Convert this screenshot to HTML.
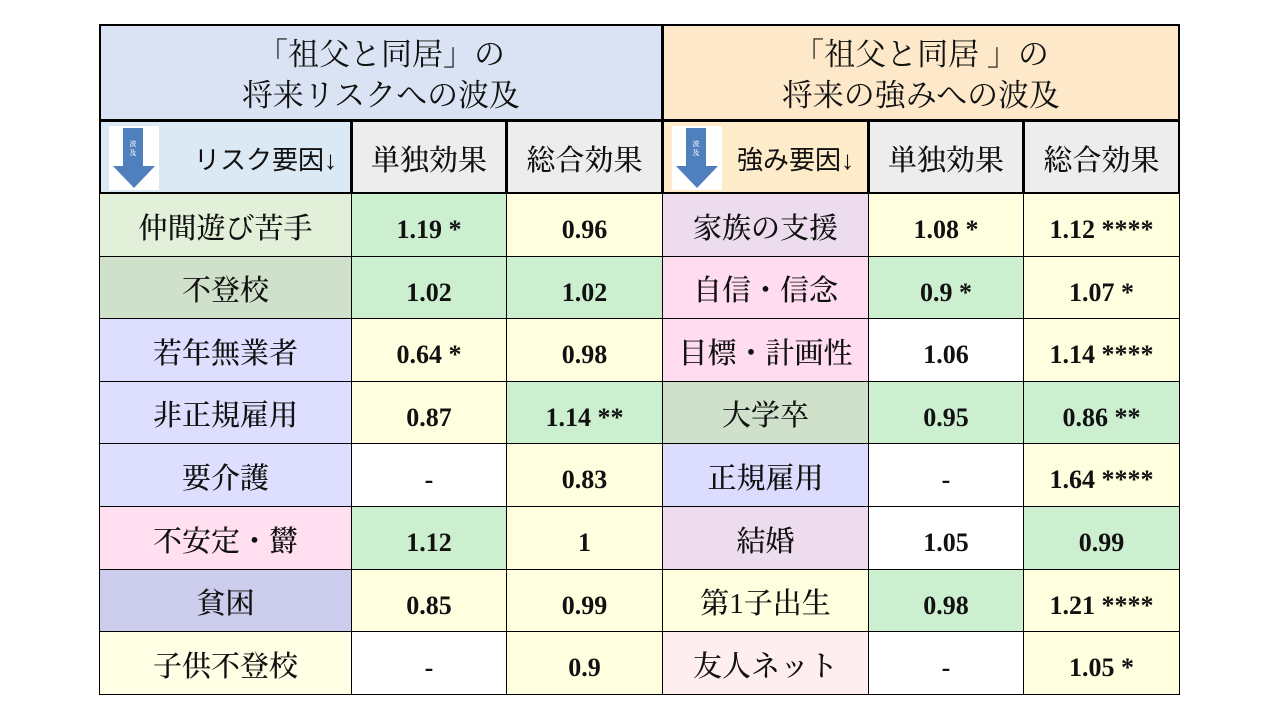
<!DOCTYPE html><html><head><meta charset="utf-8"><style>
body{margin:0;width:1280px;height:720px;background:#fff;position:relative;overflow:hidden;font-family:"Liberation Serif","Noto Serif CJK JP",serif}
.c{position:absolute;box-sizing:border-box;border:1px solid #000;display:flex;align-items:center;justify-content:center;text-align:center;color:#111}
.l{font-size:29px;font-weight:500;padding-top:2px}
.v{font-size:26px;font-weight:bold;padding-top:10px}
.h{font-size:31px;line-height:41px;padding-top:4px}
.s{position:relative;font-family:"Liberation Sans","Noto Sans CJK JP",sans-serif;font-size:26px;font-weight:normal}
.arr{position:absolute;left:8px;top:4px;width:50px;height:64px;background:#fff}
</style></head><body>
<div id="t"></div>
<script>
var X=[99,351,506,662,868,1023,1179],Y=[24,120,193];for(var i=1;i<=8;i++)Y.push(Math.round(193+i*62.6));
var h='';
function cell(x0,x1,y0,y1,bg,cls,txt,extra){h+='<div class="c '+cls+'" style="left:'+x0+'px;top:'+y0+'px;width:'+(x1-x0+1)+'px;height:'+(y1-y0+1)+'px;background:'+bg+';'+(extra||'')+'">'+txt+'</div>';}
cell(99,662,24,120,'#dae3f3','h','「祖父と同居」の<br>将来リスクへの波及','border-width:2px');
cell(662,1179,24,120,'#fde9c9','h','「祖父と同居 」の<br>将来の強みへの波及','border-width:2px');
var arrow='<svg class="arr" viewBox="0 0 50 64"><rect x="0" y="0" width="50" height="64" fill="#fff"/><rect x="14" y="2" width="20" height="40" fill="#4f7fbd"/><polygon points="4,40 46,40 25,62" fill="#4f7fbd"/><text x="24" y="20" font-size="7" fill="#fff" text-anchor="middle">波</text><text x="24" y="29" font-size="7" fill="#fff" text-anchor="middle">及</text></svg>';
cell(99,351,120,193,'#dbe9f5','l','<span class="s" style="left:40px">リスク要因↓</span>'+arrow,'border-width:2px');
cell(351,506,120,193,'#ededed','l','単独効果','border-width:2px');
cell(506,662,120,193,'#ededed','l','総合効果','border-width:2px');
cell(662,868,120,193,'#fdebc9','l','<span class="s" style="left:30px">強み要因↓</span>'+arrow,'border-width:2px');
cell(868,1023,120,193,'#ededed','l','単独効果','border-width:2px');
cell(1023,1179,120,193,'#ededed','l','総合効果','border-width:2px');
var G='#ccefd0',Yl='#ffffdf',W='#ffffff';
var rows=[
['仲間遊び苦手','#e2f0da','1.19 *',G,'0.96',Yl,'家族の支援','#ecdcee','1.08 *',Yl,'1.12 ****',Yl],
['不登校','#cfe0cb','1.02',G,'1.02',G,'自信・信念','#ffdcf0','0.9 *',G,'1.07 *',Yl],
['若年無業者','#dedeff','0.64 *',Yl,'0.98',Yl,'目標・計画性','#ffdcf0','1.06',W,'1.14 ****',Yl],
['非正規雇用','#dedeff','0.87',Yl,'1.14 **',G,'大学卒','#cfe0cb','0.95',G,'0.86 **',G],
['要介護','#dedeff','-',W,'0.83',Yl,'正規雇用','#dcdcff','-',W,'1.64 ****',Yl],
['不安定・欝','#ffdff0','1.12',G,'1',Yl,'結婚','#ecdcee','1.05',W,'0.99',G],
['貧困','#cccced','0.85',Yl,'0.99',Yl,'第1子出生','#ffffe0','0.98',G,'1.21 ****',Yl],
['子供不登校','#ffffe6','-',W,'0.9',Yl,'友人ネット','#ffeef0','-',W,'1.05 *',Yl]];
for(var r=0;r<8;r++){var d=rows[r];for(var c=0;c<6;c++){cell(X[c],X[c+1],Y[r+2],Y[r+3],d[c*2+1],(c%3==0)?'l':'v',d[c*2]);}}
document.getElementById('t').innerHTML=h;
</script>
</body></html>
